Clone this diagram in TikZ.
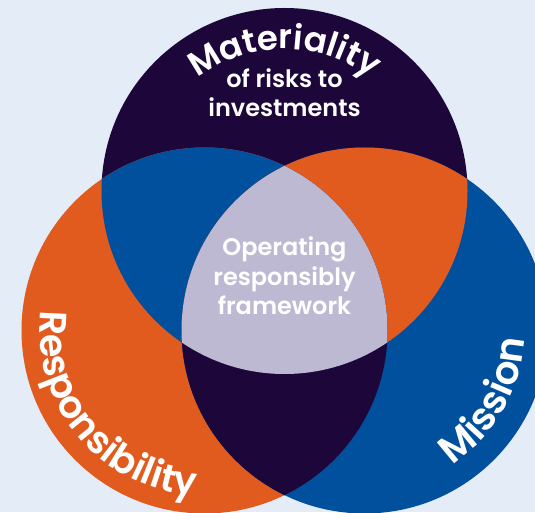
\documentclass[tikz,border=0pt]{standalone}
\usepackage{fontspec}
\newfontfamily\pops{Poppins SemiBold}
\usetikzlibrary{decorations.text,calc}
\definecolor{bgblue}{HTML}{E4ECF7}
\definecolor{vpurple}{HTML}{1C063A}
\definecolor{vorange}{HTML}{E15B1F}
\definecolor{vblue}{HTML}{00509E}
\definecolor{vlav}{HTML}{BEB9D3}
\begin{document}
\begin{tikzpicture}[x=1pt,y=1pt,
  curvetext/.style={decorate, decoration={text along path, text align=center, text color=white}},
  lbl/.style={text=white, font=\pops\fontsize{24}{30}\selectfont, anchor=base, inner sep=0pt}]
\fill[bgblue] (0,0) rectangle (535,512);
\useasboundingbox (0,0) rectangle (535,512);
\coordinate (T) at (284.5,321);
\coordinate (L) at (204.5,181.5);
\coordinate (R) at (364.5,181.5);
\def\rad{183pt}
% circles
\fill[vpurple] (T) circle[radius=\rad];
\fill[vorange] (L) circle[radius=\rad];
\fill[vblue] (R) circle[radius=\rad];
\begin{scope}
  \clip (T) circle[radius=\rad];
  \fill[vblue] (L) circle[radius=\rad];
  \fill[vorange] (R) circle[radius=\rad];
\end{scope}
\begin{scope}
  \clip (L) circle[radius=\rad];
  \fill[vpurple] (R) circle[radius=\rad];
\end{scope}
\begin{scope}
  \clip (T) circle[radius=\rad];
  \clip (L) circle[radius=\rad];
  \fill[vlav] (R) circle[radius=\rad];
\end{scope}
% curved titles
\path[curvetext, decoration={text={|\pops\fontsize{34}{34}\selectfont|Materiality}}]
  ($(T)+(135:142pt)$) arc[start angle=135, end angle=45, radius=142pt];
\path[curvetext, decoration={text={|\pops\fontsize{38}{38}\selectfont|Responsibility}}]
  ($(L)+(160:165pt)$) arc[start angle=160, end angle=280, radius=165pt];
\path[curvetext, decoration={text={|\pops\fontsize{39}{39}\selectfont|Mission}}]
  ($(R)+(-90:160pt)$) arc[start angle=-90, end angle=30, radius=160pt];
% straight labels
\node[lbl] (risk1) at (284.5,424) {of risks to};
\node[lbl] (risk2) at (284.5,395) {investments};
\node[lbl] (op1) at (284.5,257) {Operating};
\node[lbl] (op2) at (284.5,227) {responsibly};
\node[lbl] (op3) at (284.5,198) {framework};
\end{tikzpicture}
\end{document}
